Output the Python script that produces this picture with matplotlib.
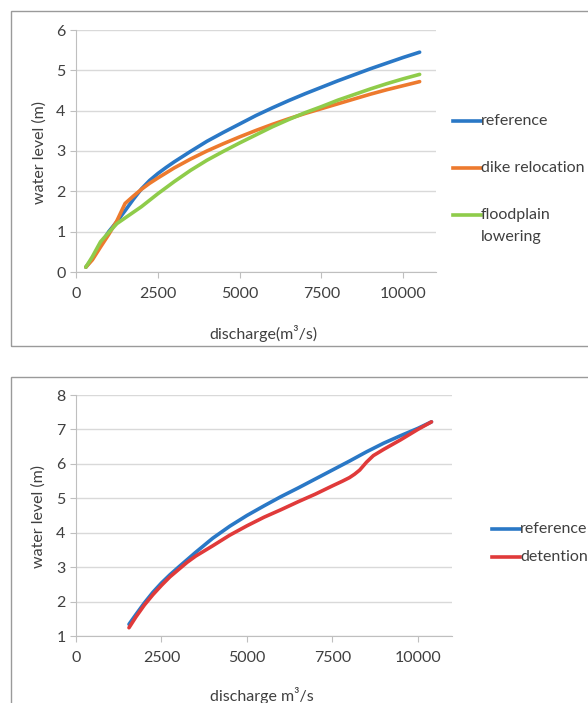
import matplotlib.pyplot as plt
from matplotlib.patches import Rectangle
from matplotlib.lines import Line2D

plt.rcParams['font.family'] = ['Lato', 'DejaVu Sans']

# top chart: rating curves for reference / dike relocation / floodplain lowering
q_ref1 = [300, 500, 750, 1000, 1250, 1500, 1750, 2000, 2250, 2500, 2750, 3000, 3500, 4000, 4500, 5000,
          5500, 6000, 6500, 7000, 7500, 8000, 8500, 9000, 9500, 10000, 10500]
h_ref1 = [0.12, 0.33, 0.68, 1.0, 1.25, 1.52, 1.8, 2.06, 2.27, 2.44, 2.59, 2.73, 2.99, 3.24, 3.46, 3.67,
          3.88, 4.07, 4.25, 4.42, 4.58, 4.74, 4.89, 5.04, 5.18, 5.32, 5.45]

q_dike = [300, 500, 750, 1000, 1250, 1500, 1750, 2000, 2250, 2500, 3000, 3500, 4000, 4500, 5000,
          5500, 6000, 6500, 7000, 7500, 8000, 8500, 9000, 9500, 10000, 10500]
h_dike = [0.12, 0.3, 0.62, 0.93, 1.27, 1.7, 1.88, 2.05, 2.2, 2.33, 2.58, 2.8, 3.0, 3.18, 3.35,
          3.51, 3.66, 3.8, 3.93, 4.05, 4.17, 4.29, 4.41, 4.52, 4.62, 4.72]

q_flood = [300, 500, 750, 1000, 1250, 1500, 1750, 2000, 2250, 2500, 2750, 3000, 3500, 4000, 4500, 5000,
           5500, 6000, 6500, 7000, 7500, 8000, 8500, 9000, 9500, 10000, 10500]
h_flood = [0.12, 0.38, 0.75, 0.98, 1.2, 1.34, 1.48, 1.62, 1.78, 1.94, 2.09, 2.24, 2.52, 2.77, 2.99, 3.2,
           3.4, 3.6, 3.78, 3.95, 4.1, 4.26, 4.4, 4.54, 4.67, 4.79, 4.9]

# bottom chart: reference vs detention
q_ref2 = [1550, 1750, 2000, 2250, 2500, 2750, 3000, 3500, 4000, 4500, 5000, 5500, 6000, 6500,
          7000, 7500, 8000, 8500, 9000, 9500, 10000, 10400]
h_ref2 = [1.34, 1.62, 1.96, 2.27, 2.54, 2.78, 3.0, 3.43, 3.84, 4.19, 4.5, 4.78, 5.05, 5.3,
          5.56, 5.82, 6.08, 6.35, 6.6, 6.82, 7.03, 7.22]

q_det = [1550, 1750, 2000, 2250, 2500, 2750, 3000, 3250, 3500, 4000, 4500, 5000, 5500, 6000, 6500,
         7000, 7500, 7800, 8000, 8150, 8300, 8500, 8700, 9000, 9500, 10000, 10400]
h_det = [1.24, 1.55, 1.9, 2.2, 2.47, 2.72, 2.93, 3.14, 3.32, 3.62, 3.93, 4.2, 4.45, 4.67, 4.9,
         5.12, 5.36, 5.5, 5.6, 5.7, 5.82, 6.05, 6.24, 6.42, 6.7, 7.0, 7.22]

x_ticks = [0, 2500, 5000, 7500, 10000]

BLUE, ORANGE, GREEN, RED = '#2a78c6', '#ed7a2e', '#8fcc4a', '#e03a3a'
TXT = '#404040'
FS = 11.5

W, H = 588, 703
fig = plt.figure(figsize=(W / 100, H / 100), dpi=100)


def fx(px):
    return px / W


def fy(py):
    return 1 - py / H


# frames around each chart (Excel chart area)
for (x0, y0, x1, y1) in [(10.5, 11, 620, 346), (10.5, 377, 620, 720)]:
    fig.patches.append(Rectangle((fx(x0), fy(y1)), (x1 - x0) / W, (y1 - y0) / H,
                                 transform=fig.transFigure, fill=False,
                                 edgecolor='#9a9a9a', linewidth=1.0))


def style(ax, ylim, yticks):
    ax.set_xlim(0, 11000)
    ax.set_ylim(*ylim)
    ax.set_xticks(x_ticks)
    ax.set_yticks(yticks)
    ax.grid(axis='y', color='#d9d9d9', linewidth=1.0)
    ax.set_axisbelow(True)
    for s in ['top', 'right']:
        ax.spines[s].set_visible(False)
    for s in ['left', 'bottom']:
        ax.spines[s].set_color('#bfbfbf')
    ax.tick_params(colors='#bfbfbf', labelcolor=TXT, labelsize=FS, length=4)
    ax.tick_params(axis='x', pad=7)


def legend_entry(x, y, color, label):
    # Excel-style legend: short line touching the text, handle on the first text line
    fig.add_artist(Line2D([fx(x), fx(x + 28)], [fy(y), fy(y)], color=color, lw=2.6,
                          transform=fig.transFigure))
    fig.text(fx(x + 28), fy(y), label, ha='left', va='center', fontsize=FS, color=TXT)


line_kw = dict(lw=2.6, solid_joinstyle='round', solid_capstyle='round')

ax1 = fig.add_axes([fx(76), fy(272), 360 / W, 242 / H])
style(ax1, (0, 6), range(0, 7))
ax1.plot(q_ref1, h_ref1, color=BLUE, zorder=3, **line_kw)
ax1.plot(q_dike, h_dike, color=ORANGE, zorder=4, **line_kw)
ax1.plot(q_flood, h_flood, color=GREEN, zorder=5, **line_kw)
legend_entry(453, 121, BLUE, 'reference')
legend_entry(453, 168, ORANGE, 'dike relocation')
legend_entry(453, 215, GREEN, 'floodplain')
fig.text(fx(481), fy(237), 'lowering', ha='left', va='center', fontsize=FS, color=TXT)
fig.text(fx(263), fy(334), 'discharge(m³/s)', ha='center', va='center', fontsize=FS, color=TXT)
fig.text(fx(40), fy(152), 'water level (m)', ha='center', va='center', rotation=90, fontsize=FS, color=TXT)

ax2 = fig.add_axes([fx(76), fy(636), 376 / W, 241 / H])
style(ax2, (1, 8), range(1, 9))
ax2.plot(q_ref2, h_ref2, color=BLUE, zorder=3, **line_kw)
ax2.plot(q_det, h_det, color=RED, zorder=4, **line_kw)
legend_entry(492, 529, BLUE, 'reference')
legend_entry(492, 557, RED, 'detention')
fig.text(fx(262), fy(695), 'discharge m³/s', ha='center', va='center', fontsize=FS, color=TXT)
fig.text(fx(39), fy(517), 'water level (m)', ha='center', va='center', rotation=90, fontsize=FS, color=TXT)

fig.savefig('out.png', dpi=100)
